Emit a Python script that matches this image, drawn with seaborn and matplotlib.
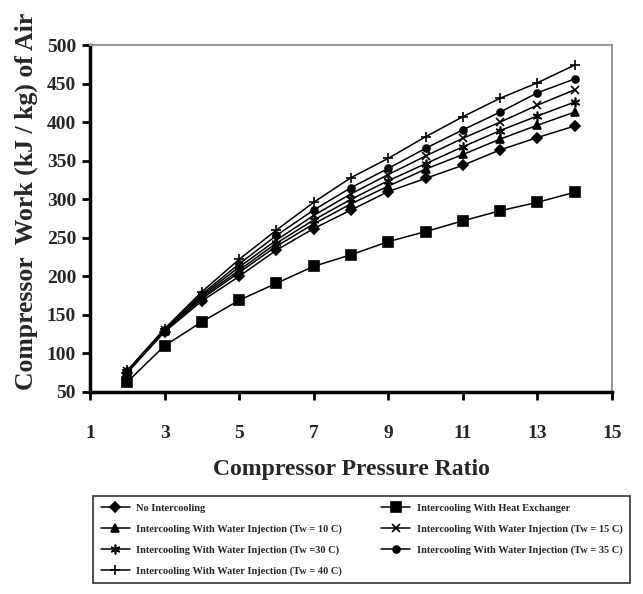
import matplotlib
matplotlib.use("Agg")
import matplotlib.pyplot as plt
import seaborn as sns
import pandas as pd

sns.set_theme(style="white")
plt.rcParams['font.family'] = ['Liberation Serif', 'DejaVu Serif']

pressure_ratio = [2, 3, 4, 5, 6, 7, 8, 9, 10, 11, 12, 13, 14]
no_intercooling = [75, 128, 168, 200, 234, 262, 286, 310, 327, 344, 364, 380, 395]
heat_exchanger = [63, 110, 141, 169, 191, 213, 228, 245, 258, 272, 285, 296, 309]
water_10 = [76, 129, 171, 205, 239, 268, 294, 317, 339, 358, 378, 396, 413]
water_15 = [77, 130, 175, 212, 247, 279, 307, 332, 356, 379, 400, 422, 442]
water_30 = [76, 129, 173, 208, 243, 273, 300, 324, 346, 368, 389, 408, 426]
water_35 = [77, 131, 177, 216, 253, 286, 315, 340, 366, 390, 413, 438, 456]
water_40 = [78, 132, 180, 222, 260, 296, 328, 353, 381, 407, 431, 451, 474]

labels = [
    "No Intercooling",
    "Intercooling With Heat Exchanger",
    "Intercooling With Water Injection (Tw = 10 C)",
    "Intercooling With Water Injection (Tw = 15 C)",
    "Intercooling With Water Injection (Tw =30 C)",
    "Intercooling With Water Injection (Tw = 35 C)",
    "Intercooling With Water Injection (Tw = 40 C)",
]
series = [no_intercooling, heat_exchanger, water_10, water_15, water_30, water_35, water_40]
markers = ["D", "s", "^", "x", (6, 2, 0), "o", "+"]
msizes = [5, 7, 6, 6, 7, 5, 7]

fig = plt.figure(figsize=(6.43, 5.94), dpi=100)
ax = fig.add_axes([90/643, 1-392/594, (612-90)/643, (392-45)/594])

handles = {}
for lab, vals, m, ms in zip(labels, series, markers, msizes):
    df = pd.DataFrame({"x": pressure_ratio, "y": vals})
    sns.lineplot(data=df, x="x", y="y", ax=ax, color="black", marker=m,
                 markersize=ms, markeredgecolor="black", markerfacecolor="black",
                 markeredgewidth=1.2, linewidth=1.1, label=lab, legend=False)
    handles[lab] = ax.lines[-1]

ax.set_xlim(1, 15)
ax.set_ylim(50, 500)
ax.set_xticks(range(1, 16, 2))
ax.set_yticks(range(50, 501, 50))
ax.tick_params(axis="both", which="both", direction="out", length=6, width=2,
               color="black", labelsize=14, pad=4,
               left=True, bottom=True)
for t in ax.get_xticklabels() + ax.get_yticklabels():
    t.set_fontweight("bold")
ax.tick_params(axis="x", pad=18)

for s in ["left", "bottom"]:
    ax.spines[s].set_color("black")
    ax.spines[s].set_linewidth(2.5)
for s in ["top", "right"]:
    ax.spines[s].set_color("#999999")
    ax.spines[s].set_linewidth(1.5)

ax.set_xlabel("Compressor Pressure Ratio", fontsize=17, fontweight="bold", labelpad=12)
ax.set_ylabel("Compressor  Work (kJ / kg) of Air", fontsize=18.5, fontweight="bold")
ax.yaxis.set_label_coords(-0.10, 0.55)

order = [labels[0], labels[2], labels[4], labels[6], labels[1], labels[3], labels[5]]
leg = fig.legend([handles[l] for l in order], order, ncol=2,
                 loc="upper left",
                 bbox_to_anchor=(88/643, 1-497/594, (635-88)/643, 0.01),
                 bbox_transform=fig.transFigure, mode="expand",
                 prop={"size": 7.5, "weight": "bold"}, frameon=True,
                 fancybox=False, edgecolor="black", handlelength=2.8,
                 handletextpad=0.6, columnspacing=2.0, labelspacing=1.1,
                 borderpad=0.7)
leg.get_frame().set_linewidth(1.2)

fig.savefig("out.png", dpi=100)
